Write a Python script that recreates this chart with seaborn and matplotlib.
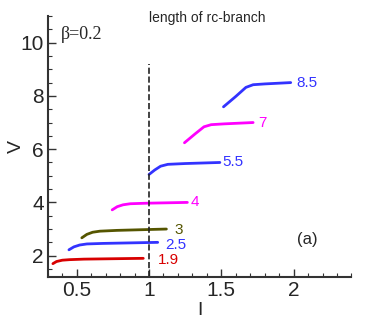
import matplotlib
matplotlib.use("Agg")
import matplotlib.pyplot as plt
from matplotlib.ticker import MultipleLocator
import seaborn as sns

# rc-branch curves, labelled by their end voltage
labels = ["1.9", "2.5", "3", "4", "5.5", "7", "8.5"]
colors = ["#d80000", "#3333ff", "#555500", "#ff00ff", "#3333ff", "#ff00ff", "#3333ff"]

I_19 = [0.335, 0.36, 0.40, 0.45, 0.55, 0.96]
V_19 = [1.70, 1.78, 1.83, 1.85, 1.87, 1.90]
I_25 = [0.446, 0.48, 0.52, 0.57, 0.68, 1.06]
V_25 = [2.22, 2.33, 2.40, 2.44, 2.46, 2.50]
I_3 = [0.535, 0.57, 0.61, 0.66, 0.78, 1.12]
V_3 = [2.67, 2.80, 2.88, 2.92, 2.95, 3.00]
I_4 = [0.745, 0.78, 0.82, 0.87, 0.98, 1.265]
V_4 = [3.72, 3.84, 3.91, 3.95, 3.97, 4.00]
I_55 = [1.00, 1.04, 1.08, 1.13, 1.25, 1.49]
V_55 = [5.05, 5.22, 5.36, 5.43, 5.46, 5.50]
I_7 = [1.245, 1.32, 1.38, 1.43, 1.52, 1.72]
V_7 = [6.24, 6.58, 6.84, 6.92, 6.95, 7.00]
I_85 = [1.515, 1.60, 1.67, 1.72, 1.80, 1.98]
V_85 = [7.59, 7.98, 8.32, 8.42, 8.45, 8.50]

curves = [(I_19, V_19), (I_25, V_25), (I_3, V_3), (I_4, V_4),
          (I_55, V_55), (I_7, V_7), (I_85, V_85)]

# label offsets from the curve end (dx, dy)
label_dx = [0.10, 0.055, 0.055, 0.02, 0.015, 0.035, 0.04]
label_dy = [-0.06, -0.09, -0.03, 0.0, 0.0, 0.0, 0.0]

sns.set_style("ticks")
plt.rcParams["font.family"] = ["Liberation Sans", "DejaVu Sans"]

fig, ax = plt.subplots(figsize=(3.68, 3.27), dpi=100)
fig.subplots_adjust(left=0.13, right=0.955, top=0.951, bottom=0.153)

for (I, V), lab, c, dx, dy in zip(curves, labels, colors, label_dx, label_dy):
    sns.lineplot(x=I, y=V, ax=ax, color=c, linewidth=2, sort=False)
    ax.text(I[-1] + dx, V[-1] + dy, lab, color=c, fontsize=11,
            va="center", ha="left")

ax.plot([1, 1], [1.2, 9.2], color="#222222", linestyle="--", linewidth=1.2)

ax.set_xlim(0.3, 2.4)
ax.set_ylim(1.2, 11)
ax.xaxis.set_minor_locator(MultipleLocator(0.1))
ax.yaxis.set_minor_locator(MultipleLocator(0.5))
ax.set_xticks([0.5, 1, 1.5, 2])
ax.set_xticklabels(["0.5", "1", "1.5", "2"])
ax.set_yticks([2, 4, 6, 8, 10])
ax.tick_params(which="both", direction="in", labelsize=15, color="#333333", pad=3)
ax.tick_params(which="major", length=6, width=1)
ax.tick_params(which="minor", length=3, width=0.8)
for s in ["left", "bottom"]:
    ax.spines[s].set_linewidth(1.5)
    ax.spines[s].set_color("#333333")
sns.despine(ax=ax)

ax.set_xlabel("I", fontsize=14, labelpad=1)
ax.set_ylabel("V", fontsize=14, labelpad=-3)

ax.text(0.39, 10.3, "β=0.2", fontsize=13, family="Liberation Serif", va="center")
ax.text(1.40, 10.93, "length of rc-branch", fontsize=10, ha="center", va="center")
ax.text(2.02, 2.6, "(a)", fontsize=12, va="center", ha="left")

fig.savefig("out.png", dpi=100)
